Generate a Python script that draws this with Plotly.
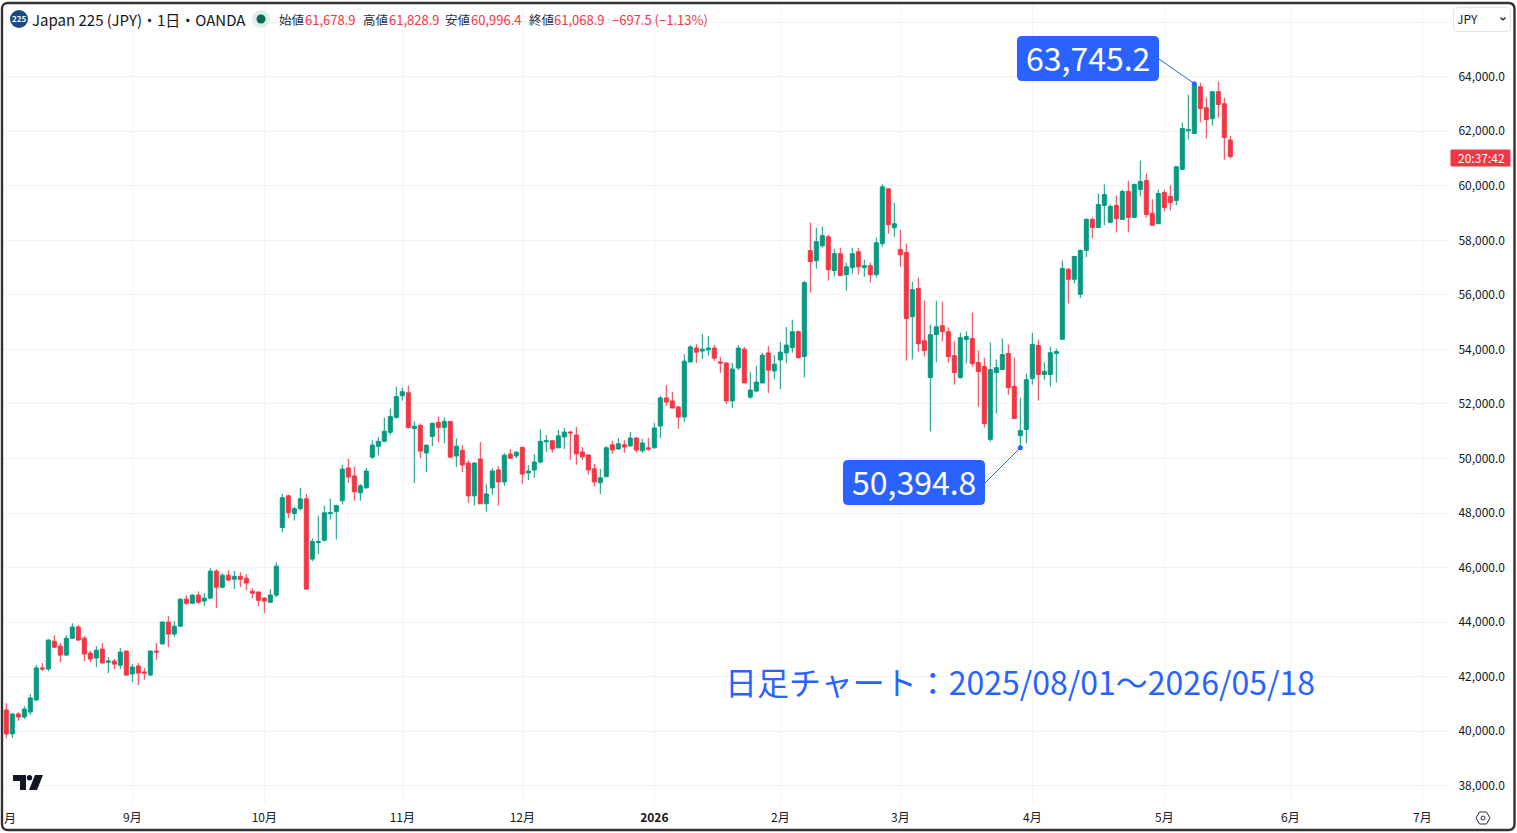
import plotly.graph_objects as go

# ---- data ----
opens = [40780,39900,40630,40520,40700,41140,42320,42280,43300,43120,
42790,43410,43820,43410,42860,42680,43010,42530,42570,42420,
42940,42100,42390,42170,42060,42940,43200,44000,43560,43850,
44840,44690,44990,44770,44880,45870,45280,45720,45570,45680,
45610,45130,45100,44880,44730,44990,47470,48630,47980,48160,
48520,46310,46920,47000,47980,48050,48450,49650,49360,48740,
48920,50050,50450,50630,50960,51500,52300,52410,51100,51210,
50200,50810,51320,51140,51360,50090,50300,49830,48630,49980,
48340,48920,49580,49140,50160,50090,50410,49470,49580,49870,
50610,50650,50390,50790,50970,50860,50240,50130,49620,49110,
49330,50500,50350,50500,50460,50750,50280,50390,50390,51190,
52220,52110,51890,51520,53540,54050,53940,53980,54050,53540,
53500,52110,53320,54010,52250,52470,52770,53870,53210,53610,
53870,54070,54650,53740,57620,57250,57800,58130,56890,57510,
56740,57000,57580,57000,57070,56740,57880,59890,58460,57660,
57550,55200,56230,54320,52970,54540,54870,54650,53770,52970,
54360,54400,53520,53370,50700,53150,53260,53850,52640,50840,
51060,52930,54140,53080,53080,53850,54370,56940,56570,56020,
57630,58770,58470,59280,58660,59280,58770,59790,58840,59860,
60190,58990,58620,59750,59610,59460,60600,62020,61920,63630,
62860,62460,63450,63010,61678.9]
highs = [41030,40670,40700,40920,41360,42430,42500,43380,43520,43230,
43520,43960,43890,43490,42940,43120,43230,42720,42650,43050,
42950,42460,42500,42320,42950,43230,44040,44220,44040,44880,
44990,45020,45130,45060,45980,45940,45790,45900,45870,45830,
45760,45240,45130,44910,45210,46190,48700,48670,48230,48920,
48700,47070,47900,48270,48520,48310,49760,49980,49690,49070,
49650,50670,50780,51500,51830,52630,52600,52670,51360,51290,
50500,51320,51540,51500,51370,50740,50490,49940,49870,50600,
49070,49650,49720,50200,50340,50270,50420,49760,50160,51070,
50860,50680,51050,51120,51010,51160,50420,50140,49800,49620,
50460,50650,50750,50680,50970,50790,50720,50750,51300,52290,
52690,52440,51930,53830,54160,54190,54560,54490,54160,53720,
53540,53500,54160,54090,53170,53390,53870,54120,53790,54270,
54820,55090,54690,56520,58650,58460,58500,58200,57690,57730,
57180,57730,57730,57290,57180,58100,60070,59900,59380,58390,
57880,56480,56630,55790,54910,55790,55750,54800,54290,54610,
54650,55350,53960,53700,54250,53630,54400,54180,53700,52230,
53110,54610,54360,53520,54100,54030,57260,56980,57420,57670,
58800,58840,59720,60050,59320,59640,59860,60190,60080,60920,
60450,59500,59860,59860,60010,60710,62320,63340,63745.2,63780,
63230,63460,63820,63230,61828.9]
lows = [39750,39750,40380,40450,40600,41130,42200,42200,43050,42530,
42750,43400,43330,42570,42530,42350,42490,42130,42280,42280,
42020,41800,41690,41880,42020,42610,43190,43080,43450,43840,
44620,44660,44660,44590,44840,44510,45240,45500,45210,45280,
45170,44880,44590,44330,44690,44910,47290,47800,47720,48090,
45200,46230,46490,46960,47760,47030,48310,49100,48450,48450,
48910,49980,50120,50600,50850,51470,52120,51100,49100,50010,
49500,50450,50600,50560,50010,49690,49500,48380,48270,48330,
48050,48670,48270,49000,49980,50010,49070,49210,49290,49830,
50240,50210,50380,50350,49950,49770,49950,49400,48960,48700,
49320,50170,50320,50210,50450,50210,50210,50280,50380,50750,
51930,51840,51080,51340,53530,53500,53650,53760,53570,53130,
52000,51850,53240,52760,52180,52460,52760,52400,52910,52550,
53500,53880,53660,52970,56080,56960,57730,56520,56670,56690,
56150,56780,56740,56670,56450,56630,57770,58240,58130,57030,
53590,53630,53920,53740,50990,53520,54290,53520,52710,52930,
53480,53370,51900,51140,50620,51650,53250,52340,51460,50394.8,
50550,52710,52120,52890,52640,52780,54360,55690,56420,55880,
57380,58070,58460,58550,58620,58290,58760,58290,58830,59610,
58840,58540,58580,59060,59100,59280,60590,61690,61910,62320,
61730,62210,62500,60960,60996.4]
closes = [39900,40630,40520,40810,41220,42320,42280,43340,43080,42790,
43410,43820,43340,42830,42650,42970,42500,42570,42460,42900,
42060,42350,42130,42130,42940,42900,44000,43560,43850,44840,
44690,44990,44730,44880,45870,45280,45720,45540,45680,45570,
45430,45060,44800,44770,44990,46050,48560,48010,48160,48520,
45210,46960,46960,48010,48010,48270,49610,49320,48780,49000,
49540,50490,50630,51000,51540,52270,52450,51140,51180,50270,
50490,51290,51140,51360,50050,50450,49760,48630,49830,48340,
48700,49540,49140,50120,50010,50230,49430,49540,49870,50630,
50650,50350,50830,50970,50940,50170,50060,49580,49140,49290,
50390,50310,50540,50420,50750,50310,50570,50350,51120,52220,
52070,51850,51520,53570,54090,53900,54010,54050,53680,53500,
52110,53280,54050,52770,52510,52800,53790,53240,53460,53900,
54160,54650,53700,56450,57220,57950,58170,56920,57510,56710,
57030,57510,57030,57070,56740,57910,59960,58570,58610,57470,
55130,56190,54210,53960,54540,54830,54650,53740,53150,54430,
54470,53480,53190,51280,53260,53330,53810,52600,51470,51020,
52890,54180,53080,53190,53880,53920,56970,56570,57410,57630,
58770,58470,59310,59680,59240,58800,59790,58840,60050,60160,
58950,58550,59720,59200,59390,60700,62100,62060,63720,62830,
62430,63450,62980,61766.4,61068.9]

month_pos = [0,21,43,66,86,108,129,149,171,193,214,236]
month_labels = ["","9月","10月","11月","12月","<b>2026</b>","2月","3月","4月","5月","6月","7月"]
clipped_month = "月"
price_ticks = [38000,40000,42000,44000,46000,48000,50000,52000,54000,56000,58000,60000,62000,64000]
callout_idx = [198, 169]
callout_val = [63745.2, 50394.8]
title_text = "日足チャート：2025/08/01～2026/05/18"
symbol_text = "Japan 225 (JPY)・1日・OANDA"
countdown = "20:37:42"

# ---- styling ----
W, H = 1517, 833
UP, DOWN, BLUE = "#089981", "#F23645", "#2962FF"
INK, GRID = "#131722", "#F2F3F5"
FONT = "Noto Sans CJK JP"
PLOT_L, PLOT_R, PLOT_T, PLOT_B = 3, 1450, 4, 804
X0, DX = 6.3, 6.0
Y64, YSCALE = 76.7, 54.54 / 2000

def fx(p): return p / W
def fy(p): return 1 - p / H
def dx2px(i): return X0 + DX * i
def dy2px(v): return Y64 + (64000 - v) * YSCALE

def rrect(x0, y0, x1, y1, r):
    pts = [("M", x0 + r, y0), ("L", x1 - r, y0), ("Q", x1, y0, x1, y0 + r), ("L", x1, y1 - r),
           ("Q", x1, y1, x1 - r, y1), ("L", x0 + r, y1), ("Q", x0, y1, x0, y1 - r),
           ("L", x0, y0 + r), ("Q", x0, y0, x0 + r, y0)]
    out = []
    for p in pts:
        cmd, vals = p[0], p[1:]
        coords = [f"{fx(vals[k]):.6f},{fy(vals[k+1]):.6f}" for k in range(0, len(vals), 2)]
        out.append(cmd + " " + " ".join(coords))
    return " ".join(out) + " Z"

def poly(points, close=True):
    s = " ".join(("M " if k == 0 else "L ") + f"{fx(a):.6f},{fy(b):.6f}" for k, (a, b) in enumerate(points))
    return s + (" Z" if close else "")

def circle(cx, cy, r, **kw):
    return dict(type="circle", xref="paper", yref="paper", x0=fx(cx - r), x1=fx(cx + r),
                y0=fy(cy + r), y1=fy(cy - r), **kw)

def pshape(path, fill=None, line=None, width=0, layer="above"):
    return dict(type="path", xref="paper", yref="paper", path=path, fillcolor=fill or "rgba(0,0,0,0)",
                line=dict(color=line or "rgba(0,0,0,0)", width=width), layer=layer)

def label(text, x, y, size=12, color=INK, anchor="left", family=FONT):
    return dict(text=text, xref="paper", yref="paper", x=fx(x), y=fy(y), xanchor=anchor, yanchor="middle",
                showarrow=False, font=dict(family=family, size=size, color=color), borderpad=0, borderwidth=0)

xs = list(range(len(opens)))
fig = go.Figure()
fig.add_trace(go.Candlestick(
    x=xs, open=opens, high=highs, low=lows, close=closes, whiskerwidth=0,
    increasing=dict(line=dict(color=UP, width=1), fillcolor=UP),
    decreasing=dict(line=dict(color=DOWN, width=1), fillcolor=DOWN),
    showlegend=False, hoverinfo="skip"))
fig.add_trace(go.Scatter(x=callout_idx, y=callout_val, mode="markers", showlegend=False, hoverinfo="skip",
                         marker=dict(color=BLUE, size=5)))

boxes = [(1017, 36, 1159, 81, 1159, 59), (843, 460, 985, 505, 985, 483)]
shapes, annos = [], []
for (x0, y0, x1, y1, lx, ly), i, v in zip(boxes, callout_idx, callout_val):
    shapes.append(dict(type="line", xref="paper", yref="paper", x0=fx(lx), y0=fy(ly), x1=fx(dx2px(i)), y1=fy(dy2px(v)),
                       line=dict(color=BLUE, width=1), layer="above"))
    shapes.append(pshape(rrect(x0, y0, x1, y1, 5), fill=BLUE))
    annos.append(label(f"{v:,.1f}", (x0 + x1) / 2, (y0 + y1) / 2 - 2, size=32, color="#FFFFFF", anchor="center"))

annos.append(label(title_text, 725, 681, size=32, color=BLUE))
annos.append(label(clipped_month, 3.5, 817, size=12))

# header
shapes.append(circle(19, 19, 9, fillcolor="#1B4B82", line=dict(width=0), layer="above"))
annos.append(label("<b>225</b>", 19, 19, size=8, color="#FFFFFF", anchor="center"))
annos.append(label(symbol_text, 32, 19.5, size=15))
shapes.append(circle(261, 19, 9, fillcolor="#DDEFEB", line=dict(width=0), layer="above"))
shapes.append(circle(261, 19, 4.5, fillcolor="#0A6B58", line=dict(width=0), layer="above"))
last = len(opens) - 1
chg = closes[last] - closes[last - 1]
ohlc = [("始値", 279, opens[last], 305), ("高値", 363, highs[last], 388.5),
        ("安値", 445, lows[last], 470.5), ("終値", 529, closes[last], 554)]
for name, nx, val, vx in ohlc:
    annos.append(label(name, nx, 19.5, size=12.5, color="#2A2E39"))
    annos.append(label(f"{val:,.1f}", vx, 19.5, size=13, color=DOWN))
annos.append(label(f"−{abs(chg):,.1f} (−{abs(chg) / closes[last - 1] * 100:.2f}%)", 612, 19.5, size=13, color=DOWN))

# price-scale widgets
shapes.append(pshape(rrect(1453.5, 7.5, 1510.5, 31.5, 4), fill="#FFFFFF", line="#E0E3EB", width=1))
annos.append(label("JPY", 1457, 19, size=12))
shapes.append(pshape(poly([(1500.5, 17.5), (1503, 20), (1505.5, 17.5)], close=False), line=INK, width=1.2))
shapes.append(pshape(rrect(1450.5, 149.5, 1510.5, 166.5, 1), fill=DOWN))
annos.append(label(countdown, 1481, 157.2, size=12, color="#FFFFFF", anchor="center"))

# TradingView mark
shapes.append(pshape(poly([(13, 775), (26, 775), (26, 790), (20, 790), (20, 781), (13, 781)]), fill="#131722"))
shapes.append(circle(29.5, 777.7, 2.7, fillcolor="#131722", line=dict(width=0), layer="above"))
shapes.append(pshape(poly([(35, 775), (43, 775), (37, 790), (29, 790)]), fill="#131722"))

# settings glyph
shapes.append(pshape(poly([(1476, 818), (1479.5, 812), (1486.5, 812), (1490, 818), (1486.5, 824), (1479.5, 824)]),
                     line="#2A2E39", width=1))
shapes.append(circle(1483, 818, 2, fillcolor="rgba(0,0,0,0)", line=dict(color="#2A2E39", width=1), layer="above"))

# outer frame
shapes.append(pshape(rrect(2, 3, 1514.5, 830, 6), line="#333333", width=2.4))

fig.update_layout(
    width=W, height=H, autosize=False, margin=dict(l=0, r=0, t=0, b=0, pad=0),
    paper_bgcolor="#FFFFFF", plot_bgcolor="#FFFFFF", showlegend=False, hovermode=False,
    boxgap=0.33, boxgroupgap=0, shapes=shapes, annotations=annos,
    font=dict(family=FONT, size=12, color=INK),
    xaxis=dict(domain=[fx(PLOT_L), fx(PLOT_R)], range=[(PLOT_L - X0) / DX, (PLOT_R - X0) / DX],
               tickmode="array", tickvals=month_pos, ticktext=month_labels, showgrid=True, gridcolor=GRID, gridwidth=1,
               zeroline=False, showline=False, ticks="outside", ticklen=3, tickcolor="rgba(0,0,0,0)",
               rangeslider=dict(visible=False), tickfont=dict(family=FONT, size=12, color=INK), tickangle=0),
    yaxis=dict(domain=[fy(PLOT_B), fy(PLOT_T)],
               range=[64000 - (PLOT_B - Y64) / YSCALE, 64000 + (Y64 - PLOT_T) / YSCALE],
               side="right", tickmode="array", tickvals=price_ticks, tickformat=",.1f",
               showgrid=True, gridcolor=GRID, gridwidth=1, zeroline=False, showline=False,
               ticks="outside", ticklen=5, tickcolor="rgba(0,0,0,0)",
               tickfont=dict(family=FONT, size=12, color=INK),
               minor=dict(tickmode="array", tickvals=[66000], showgrid=True, gridcolor=GRID, gridwidth=1, ticks="")),
)

fig.write_html("out.html", post_script="document.body.style.margin='0';document.documentElement.style.overflow='hidden';",
               config=dict(displayModeBar=False))
